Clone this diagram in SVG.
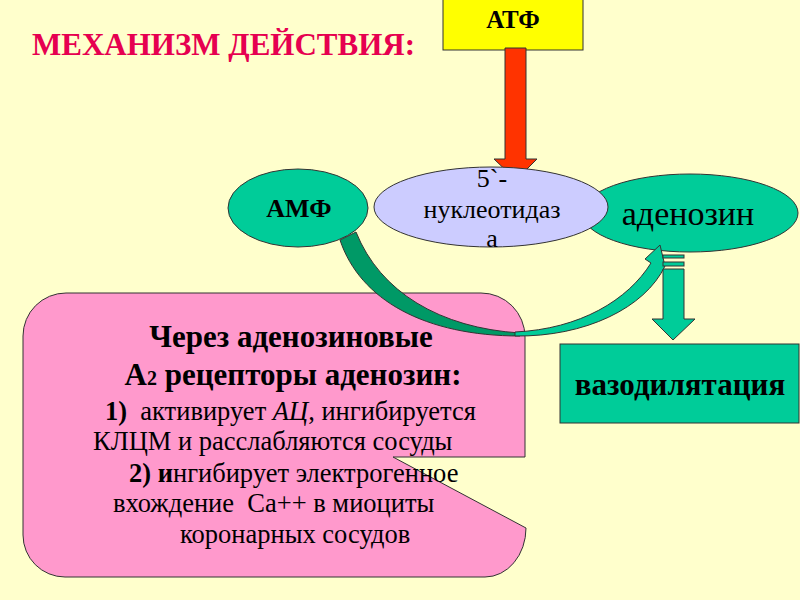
<svg xmlns="http://www.w3.org/2000/svg" width="800" height="600" viewBox="0 0 800 600">
<style>
text{font-family:'Liberation Serif','DejaVu Serif',serif;fill:#000;white-space:pre}
.b{font-weight:bold}
.ln{stroke:#333;stroke-width:1}
.green{fill:#00CC99}
.dgreen{fill:#009966}
</style>
<rect x="0" y="0" width="800" height="600" fill="#FFFFCC"/>
<text class="b" x="32" y="55" font-size="31" style="fill:#E60050">МЕХАНИЗМ ДЕЙСТВИЯ:</text>

<g id="pink">
<path class="ln" fill="#FF99CC" d="M 66,293 H 481 A 44 44 0 0 1 525,337 V 457 H 393 L 526,528 A 41 49 0 0 1 485,577 H 65 A 42 42 0 0 1 23,535 V 336 A 43 43 0 0 1 66,293 Z"/>
<g font-size="26.5">
<text class="b" x="291" y="347" font-size="31" text-anchor="middle">Через аденозиновые</text>
<text class="b" x="293" y="385" font-size="31" text-anchor="middle">А<tspan font-size="20">2</tspan> рецепторы аденозин:</text>
<text x="105" y="420"><tspan font-weight="bold">1)</tspan>  активирует <tspan font-style="italic">АЦ</tspan>, ингибируется</text>
<text x="93" y="450">КЛЦМ и расслабляются сосуды</text>
<text x="129" y="482"><tspan font-weight="bold">2) и</tspan>нгибирует электрогенное</text>
<text x="113" y="512">вхождение  Са++ в миоциты</text>
<text x="180" y="543">коронарных сосудов</text>
</g>
</g>

<g id="atf">
<rect class="ln" x="443" y="-1" width="140" height="51" fill="#FFFF00"/>
<text class="b" x="513" y="28" font-size="25" text-anchor="middle">АТФ</text>
</g>

<g id="adenosine">
<ellipse class="ln green" cx="690" cy="213" rx="108" ry="39"/>
<text x="688" y="225" font-size="34" text-anchor="middle">аденозин</text>
</g>

<g id="connectors">
<path class="ln dgreen" d="M 340,240 C 360,300 425,336 520,336 L 520,333 C 440,328 380,292 356,232 Z"/>
<path class="ln green" d="M 515,336 C 585,337 645,308 665,266 L 660,245 L 645,259 L 651,263 C 628,300 580,329 515,332 Z"/>
<path class="ln" fill="#FF3300" stroke="#CC3300" d="M 505,48 H 526 V 159 H 537 L 516,180 L 494,159 H 505 Z"/>
<rect class="ln green" x="663" y="255" width="21" height="3"/>
<rect class="ln green" x="663" y="262" width="21" height="4"/>
<path class="ln green" d="M 663,269 H 684 V 319 H 695 L 673,340 L 652,319 H 663 Z"/>
</g>

<g id="amf">
<ellipse class="ln green" cx="298" cy="208" rx="70" ry="39"/>
<text class="b" x="299" y="217" font-size="26" text-anchor="middle">АМФ</text>
</g>

<g id="nucleotidase">
<ellipse class="ln" cx="491" cy="207" rx="117" ry="40" fill="#CCCCFF"/>
<g font-size="26" text-anchor="middle">
<text x="492" y="187">5`-</text>
<text x="492" y="218">нуклеотидаз</text>
<text x="492" y="247">а</text>
</g>
</g>

<g id="vasodilatation">
<rect class="ln green" x="560" y="344" width="239" height="79"/>
<text class="b" x="680" y="395" font-size="31" text-anchor="middle">вазодилятация</text>
</g>
</svg>
